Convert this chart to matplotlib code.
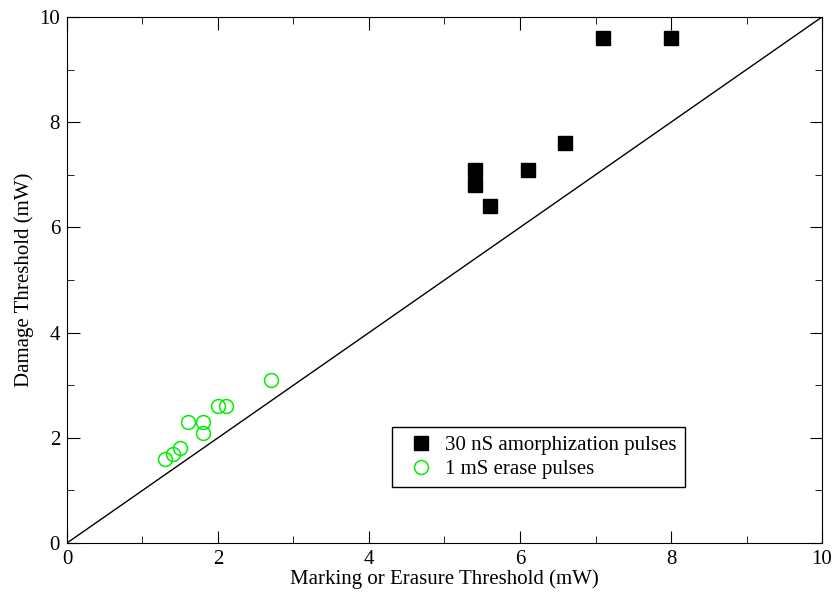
import numpy as np
import matplotlib.pyplot as plt
from matplotlib.ticker import MultipleLocator

plt.rcParams['font.family'] = 'Liberation Serif'

# 30 nS amorphization pulses
amorph_x = [5.4, 5.4, 5.6, 6.1, 6.6, 7.1, 8.0]
amorph_y = [7.1, 6.8, 6.4, 7.1, 7.6, 9.6, 9.6]

# 1 mS erase pulses
erase_x = [1.3, 1.4, 1.5, 1.6, 1.8, 1.8, 2.0, 2.1, 2.7]
erase_y = [1.6, 1.7, 1.8, 2.3, 2.3, 2.1, 2.6, 2.6, 3.1]

diag = [0, 10]

fig = plt.figure(figsize=(8.32, 5.96), dpi=100)
ax = fig.add_axes([0.0805, 0.0889, 0.9075, 0.8826])

ax.plot(diag, diag, 'k-', lw=1)
ax.plot(amorph_x, amorph_y, 's', color='black', ms=10, ls='none',
        label='30 nS amorphization pulses')
ax.plot(erase_x, erase_y, 'o', mfc='none', mec='#00ee00', mew=1.1, ms=10,
        ls='none', label='1 mS erase pulses')

ax.set_xlim(0, 10)
ax.set_ylim(0, 10)
ax.xaxis.set_major_locator(MultipleLocator(2))
ax.xaxis.set_minor_locator(MultipleLocator(1))
ax.yaxis.set_major_locator(MultipleLocator(2))
ax.yaxis.set_minor_locator(MultipleLocator(1))
ax.tick_params(which='both', direction='in', top=True, right=True, labelsize=15)
ax.tick_params(which='major', length=9, pad=5)
ax.tick_params(which='minor', length=5)

ax.set_xlabel('Marking or Erasure Threshold (mW)', fontsize=15, labelpad=0)
ax.set_ylabel('Damage Threshold (mW)', fontsize=15, labelpad=4)

leg = ax.legend(loc='lower left', bbox_to_anchor=(0.43, 0.106), fontsize=15,
                fancybox=False, edgecolor='black', framealpha=1,
                handletextpad=0.15, borderpad=0.4, labelspacing=0.2,
                borderaxespad=0)
leg.get_frame().set_linewidth(1)

plt.savefig('out.png', dpi=100)
